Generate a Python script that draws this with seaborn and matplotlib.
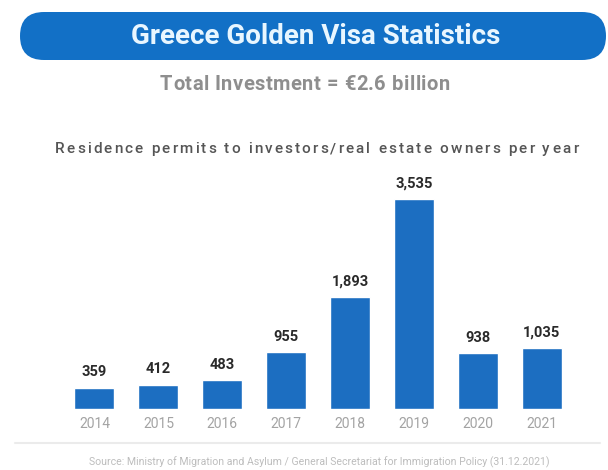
import matplotlib
matplotlib.use("Agg")
import matplotlib.pyplot as plt
import pandas as pd
import seaborn as sns
from matplotlib.patches import FancyBboxPatch
from matplotlib.font_manager import FontProperties
from matplotlib.textpath import TextToPath

years = ["2014", "2015", "2016", "2017", "2018", "2019", "2020", "2021"]
permits = [359, 412, 483, 955, 1893, 3535, 938, 1035]
value_labels = ["359", "412", "483", "955", "1,893", "3,535", "938", "1,035"]

title = "Greece Golden Visa Statistics"
subtitle = "Total Investment = \u20ac2.6 billion"
chart_title = "Residence permits to investors/real estate owners per year"
source = ("Source: Ministry of Migration and Asylum / General Secretariat "
          "for Immigration Policy (31.12.2021)")

DPI = 100
sns.set_style("white")
plt.rcParams["font.family"] = ["Roboto", "DejaVu Sans"]

ttp = TextToPath()


def text_px(s, prop):
    # width of s in pixels, measured with a sentinel so trailing spaces count
    w1 = ttp.get_text_width_height_descent(s + "|", prop, ismath=False)[0]
    w0 = ttp.get_text_width_height_descent("|", prop, ismath=False)[0]
    return (w1 - w0) * DPI / 72.0


def tracked_text(ax, x_left, x_right, y, s, size, weight="normal", color="k"):
    # spread the letters of s between x_left and x_right (pixel units)
    prop = FontProperties(family="Roboto", size=size, weight=weight)
    natural = text_px(s, prop)
    track = (x_right - x_left - natural) / (len(s) - 1)
    for i, ch in enumerate(s):
        if ch == " ":
            continue
        x = x_left + text_px(s[:i], prop) + i * track
        ax.text(x, y, ch, ha="left", va="center", fontproperties=prop, color=color)


df = pd.DataFrame({"year": years, "permits": permits})

fig = plt.figure(figsize=(6.08, 4.70), dpi=DPI)
fig.patch.set_facecolor("white")

# overlay in pixel units for the banner and text
bg = fig.add_axes([0, 0, 1, 1])
bg.set_xlim(0, 608)
bg.set_ylim(470, 0)
bg.axis("off")

banner = FancyBboxPatch((20, 12), 586, 48, boxstyle="round,pad=0,rounding_size=24",
                        facecolor="#1270c6", edgecolor="none")
bg.add_patch(banner)
bg.text(316, 37, title, ha="center", va="center", color="#e8f6ff",
        fontsize=20, fontweight="bold")
tracked_text(bg, 160, 450, 84, subtitle, 14.5, weight="bold", color="#8e8e8e")
tracked_text(bg, 55, 578, 149, chart_title, 11, weight="medium", color="#555555")
bg.plot([15, 600], [443, 443], color="#ebebeb", lw=1.5)
bg.text(319, 462, source, ha="center", va="center", color="#bdbdbd", fontsize=7.6)

ax = fig.add_axes([0.1028, 0.1298, 0.841, 0.5085])
sns.barplot(data=df, x="year", y="permits", color="#1c6ec1", width=0.625,
            saturation=1, ax=ax)
ax.set_xlim(-0.5, 7.5)
ax.set_ylim(0, 4023)
ax.bar_label(ax.containers[0], labels=value_labels, padding=6,
             fontsize=10.5, fontweight="bold", color="#2a2a2a")
ax.set_xlabel("")
ax.set_ylabel("")
ax.set_yticks([])
ax.tick_params(axis="x", length=0, pad=6, labelsize=10, labelcolor="#a3a3a3")
sns.despine(ax=ax, left=True, bottom=True)
ax.patch.set_alpha(0)

fig.savefig("out.png", dpi=DPI)
